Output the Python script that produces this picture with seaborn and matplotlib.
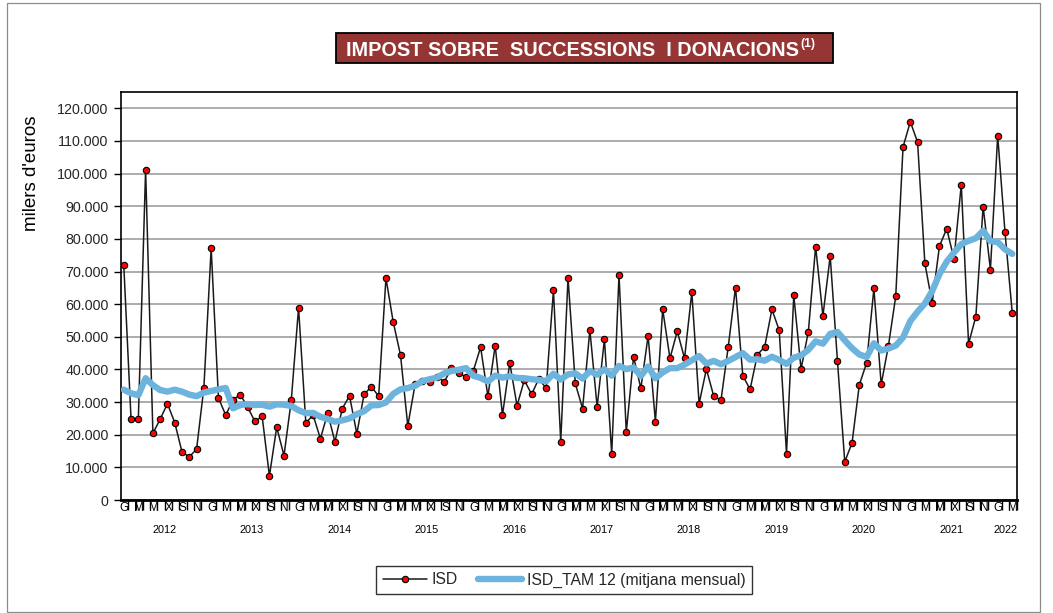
import numpy as np
import pandas as pd
import matplotlib
matplotlib.use("Agg")
import matplotlib.pyplot as plt
import matplotlib.transforms as mtransforms
from matplotlib.patches import Rectangle
from matplotlib.lines import Line2D
from matplotlib.ticker import FuncFormatter, FixedLocator
import seaborn as sns

# ---------------- data (milers d'euros) ----------------
years = [2012, 2013, 2014, 2015, 2016, 2017, 2018, 2019, 2020, 2021, 2022]
month_labels = ["G", "", "M", "", "M", "", "X", "", "S", "", "N", ""]

isd = [
    72000, 24800, 24800, 101200, 20400, 24800, 29500, 23700, 14700, 13200, 15600, 34400,   # 2012
    77200, 31300, 26000, 30700, 32300, 28500, 24100, 25600, 7400, 22300, 13600, 30500,     # 2013
    58900, 23600, 26000, 18800, 26600, 17800, 28000, 31900, 20300, 32400, 34700, 31800,    # 2014
    68000, 54500, 44400, 22700, 35400, 36500, 36100, 37800, 36200, 40300, 39000, 37600,    # 2015
    39600, 46800, 31800, 47300, 26000, 42000, 28900, 36700, 32400, 37200, 34200, 64200,    # 2016
    17900, 68100, 35700, 28000, 52100, 28500, 49300, 14100, 69000, 20800, 43900, 34200,    # 2017
    50300, 24000, 58400, 43400, 51700, 43400, 63700, 29500, 40100, 31900, 30500, 46900,    # 2018
    65100, 38100, 33900, 44500, 46900, 58400, 52000, 14200, 62700, 40100, 51600, 77600,    # 2019
    56400, 74700, 42500, 11700, 17500, 35300, 42000, 64800, 35400, 47300, 62400, 108100,   # 2020
    115900, 109600, 72500, 60400, 77800, 83100, 73900, 96600, 47900, 56200, 89900, 70600,  # 2021
    111600, 82100, 57200,                                                                  # 2022
]

isd_tam12 = [
    33800, 32700, 32100, 37300, 35200, 33700, 33200, 33800, 33200, 32300, 31800, 32900,   # 2012
    33400, 33900, 34300, 28100, 29100, 29400, 29100, 29200, 28600, 29300, 29200, 28800,   # 2013
    27500, 26600, 26700, 25500, 24800, 24000, 24400, 25000, 26300, 27200, 29000, 29100,   # 2014
    29900, 32500, 33900, 34300, 35000, 36400, 37000, 37500, 38800, 39500, 39900, 40400,   # 2015
    38100, 37400, 36300, 38100, 37500, 37900, 37400, 37300, 37000, 36800, 36400, 38700,   # 2016
    36900, 38500, 38800, 37200, 39500, 38400, 40100, 38100, 41100, 40100, 40600, 38000,   # 2017
    40900, 37300, 39100, 40400, 40400, 41500, 42800, 44100, 41800, 42600, 41600, 42600,   # 2018
    43800, 45000, 43000, 43100, 42700, 43900, 42900, 41700, 43600, 44300, 46000, 48600,   # 2019
    47900, 50900, 51500, 48900, 46500, 44600, 43800, 48000, 45800, 46400, 47300, 49800,   # 2020
    54800, 57700, 60200, 64000, 69200, 73000, 75800, 78400, 79400, 80200, 82500, 79300,   # 2021
    79000, 76800, 75400,                                                                  # 2022
]

series_names = ["ISD", "ISD_TAM 12 (mitjana mensual)"]
title_text = "IMPOST SOBRE  SUCCESSIONS  I DONACIONS"
title_sup = "(1)"
y_label = "milers d'euros"

# ---------------- build frame ----------------
n = len(isd)
df = pd.DataFrame({"idx": np.arange(n), "ISD": isd, "TAM": isd_tam12})

sns.set_theme(style="white")
plt.rcParams["font.family"] = ["Liberation Sans", "DejaVu Sans"]

W, H = 1053, 613
fig = plt.figure(figsize=(W / 100, H / 100), dpi=100)
fig.patch.set_facecolor("white")

def px_box(l, t, r, b):
    return [l / W, 1 - b / H, (r - l) / W, (b - t) / H]

ax = fig.add_axes(px_box(121, 92, 1017, 500))

sns.lineplot(data=df, x="idx", y="ISD", ax=ax, color="#1a1a1a", linewidth=1.1,
             marker="o", markersize=4.6, markerfacecolor="#ff0000",
             markeredgecolor="#000000", markeredgewidth=0.8, zorder=3,
             label=series_names[0], legend=False)
sns.lineplot(data=df, x="idx", y="TAM", ax=ax, color="#6cb4dd", linewidth=4.6,
             zorder=4, label=series_names[1], legend=False,
             solid_capstyle="round", solid_joinstyle="round")

x0 = -0.38
ax.set_xlim(x0, n - 1 + 0.65)
ax.set_ylim(0, 125000)
ax.yaxis.set_major_locator(FixedLocator(np.arange(0, 120001, 10000)))
ax.yaxis.set_major_formatter(FuncFormatter(lambda v, p: f"{v:,.0f}".replace(",", ".")))
ax.tick_params(axis="y", which="major", direction="out", length=5, width=1,
               color="black", labelsize=10.3, pad=4, left=True)
ax.grid(axis="y", color="#a6a6a6", linewidth=1.3)
ax.grid(axis="x", visible=False)
ax.set_axisbelow(True)
ax.set_xlabel("")
ax.set_ylabel("")

for s in ["left", "top", "right"]:
    ax.spines[s].set_visible(True)
    ax.spines[s].set_color("black")
    ax.spines[s].set_linewidth(1.2)
ax.spines["bottom"].set_color("black")
ax.spines["bottom"].set_linewidth(2.0)

# x ticks: month boundaries (minor), year boundaries (major, long)
bounds = [k + x0 for k in range(n + 1)]
year_bounds = [k + x0 for k in range(0, n, 12)]
ax.xaxis.set_major_locator(FixedLocator(year_bounds))
ax.xaxis.set_minor_locator(FixedLocator(bounds))
ax.set_xticklabels([])
ax.tick_params(axis="x", which="major", direction="out", length=29, width=1.0, color="black")
ax.tick_params(axis="x", which="minor", direction="out", length=7.5, width=1.0, color="black", bottom=True)

trans = mtransforms.blended_transform_factory(ax.transData, ax.transAxes)
axh = 408.0
for k in range(n):
    lab = month_labels[k % 12]
    if lab:
        ax.text(k + 0.1, -8 / axh, lab, transform=trans, ha="center", va="center",
                fontsize=8.5, color="black")
for j, yr in enumerate(years):
    start = j * 12
    end = min(start + 12, n)
    ax.text((start + end - 1) / 2 + 0.1, -30 / axh, str(yr), transform=trans,
            ha="center", va="center", fontsize=7.8, color="black")

# y label
fig.text(31 / W, 1 - 173 / H, y_label, rotation=90, ha="center", va="center",
         fontsize=13.5, color="black")

# title box
fig.patches.append(Rectangle((336 / W, 1 - 62.5 / H), (833 - 336) / W, 30 / H,
                             transform=fig.transFigure, facecolor="#963634",
                             edgecolor="black", linewidth=1.3, zorder=1))
t_main = fig.text(346 / W, 1 - 50 / H, title_text, ha="left", va="center", fontsize=14.3,
                  fontweight="bold", color="white", zorder=2)
fig.canvas.draw()
bb = t_main.get_window_extent(renderer=fig.canvas.get_renderer())
fig.text((bb.x1 + 1) / W, 1 - 44.5 / H, title_sup, ha="left", va="center", fontsize=8.8,
         fontweight="bold", color="white", zorder=2)

# outer frame
fig.patches.append(Rectangle((7 / W, 1 - 612 / H), (1040 - 7) / W, (612 - 3) / H,
                             transform=fig.transFigure, facecolor="none",
                             edgecolor="#8c8c8c", linewidth=0.9, zorder=0))

# legend
handles = [
    Line2D([0], [0], color="#1a1a1a", linewidth=1.1, marker="o", markersize=4.6,
           markerfacecolor="#ff0000", markeredgecolor="black", markeredgewidth=0.8),
    Line2D([0], [0], color="#6cb4dd", linewidth=4.6),
]
leg = fig.legend(handles, series_names, loc="center", bbox_to_anchor=(564 / W, 1 - 580 / H),
                 ncol=2, frameon=True, fancybox=False, edgecolor="black", fontsize=11.3,
                 handlelength=2.8, handletextpad=0.3, columnspacing=1.3, borderpad=0.4)
leg.get_frame().set_linewidth(1.0)

fig.savefig("out.png", dpi=100)
